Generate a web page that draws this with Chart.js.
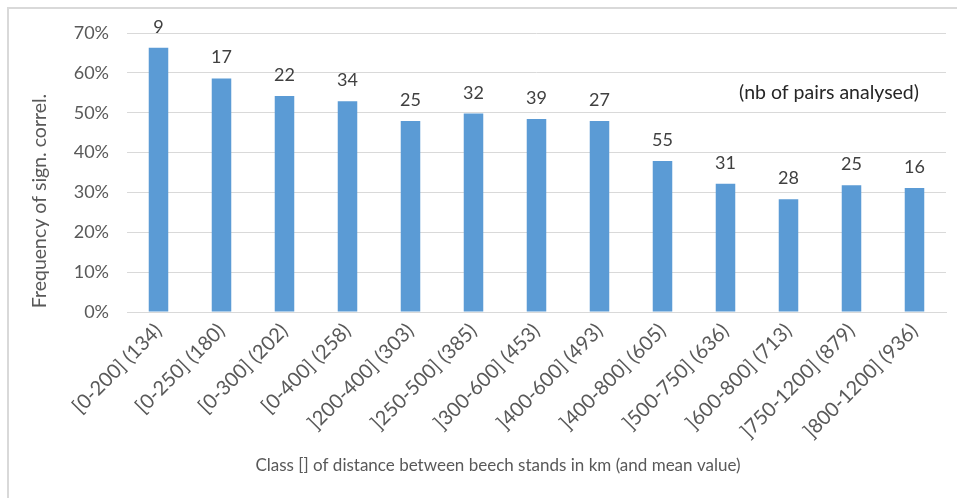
<!DOCTYPE html>
<html>
<head>
<meta charset="utf-8">
<script src="https://cdn.jsdelivr.net/npm/chart.js@4/dist/chart.umd.min.js"></script>
<style>
    html, body { margin: 0; padding: 0; background: #fff; }
    #wrap { position: relative; width: 957px; height: 498px; }
    #frame {
        position: absolute; left: 7px; top: 7px; right: -10px; bottom: -10px;
        border-top: 2px solid #d9d9d9; border-left: 2px solid #d9d9d9;
        pointer-events: none;
    }
</style>
</head>
<body>
<div id="wrap">
    <canvas id="chart" width="957" height="498"></canvas>
    <div id="frame"></div>
</div>
<script>
// Data
const categories = ['[0-200] (134)', '[0-250] (180)', '[0-300] (202)', '[0-400] (258)',
    ']200-400] (303)', ']250-500] (385)', ']300-600] (453)', ']400-600] (493)',
    ']400-800] (605)', ']500-750] (636)', ']600-800] (713)', ']750-1200] (879)', ']800-1200] (936)'];
const frequency = [66.3, 58.6, 54.2, 52.9, 47.9, 49.8, 48.4, 47.9, 37.9, 32.2, 28.3, 31.8, 31.1];
const pairCounts = [9, 17, 22, 34, 25, 32, 39, 27, 55, 31, 28, 25, 16];
const yTicks = [0, 10, 20, 30, 40, 50, 60, 70];

const FONT = 'Lato, "Open Sans", sans-serif';
const TEXT = '#595959';

// Labels above bars, the note and the two axis titles
const textPlugin = {
    id: 'texts',
    afterDatasetsDraw(chart) {
        const ctx = chart.ctx;
        const meta = chart.getDatasetMeta(0);
        const yScale = chart.scales.y;
        const area = chart.chartArea;
        ctx.save();
        ctx.fillStyle = '#404040';
        ctx.font = '18px ' + FONT;
        ctx.textAlign = 'center';
        ctx.textBaseline = 'alphabetic';
        meta.data.forEach((bar, i) => {
            ctx.fillText(String(pairCounts[i]), bar.x, bar.y - 15);
        });

        ctx.fillStyle = '#262626';
        ctx.font = '19.5px ' + FONT;
        ctx.textAlign = 'right';
        ctx.textBaseline = 'middle';
        ctx.fillText('(nb of pairs analysed)', area.right - 27, yScale.getPixelForValue(55));

        ctx.fillStyle = TEXT;
        ctx.textAlign = 'center';
        ctx.font = '17px ' + FONT;
        ctx.fillText('Class [] of distance between beech stands in km (and mean value)', 498, 466);

        ctx.translate(40, 201);
        ctx.rotate(-Math.PI / 2);
        ctx.font = '19.5px ' + FONT;
        ctx.fillText('Frequency of sign. correl.', 0, 0);
        ctx.restore();
    }
};

const ctx = document.getElementById('chart').getContext('2d');
const chart = new Chart(ctx, {
    type: 'bar',
    data: {
        labels: categories,
        datasets: [{
            data: frequency,
            backgroundColor: '#5b9bd5',
            borderWidth: 0,
            categoryPercentage: 1,
            barPercentage: 0.31
        }]
    },
    options: {
        responsive: false,
        animation: false,
        layout: {
            padding: { top: 33, right: 11, bottom: 0, left: 0 }
        },
        plugins: {
            legend: { display: false },
            tooltip: { enabled: false }
        },
        scales: {
            x: {
                grid: { display: false, drawTicks: false },
                border: { color: '#d9d9d9', width: 1 },
                ticks: {
                    autoSkip: false,
                    minRotation: 45,
                    maxRotation: 45,
                    padding: 7,
                    color: TEXT,
                    font: { family: FONT, size: 20 }
                },
                afterFit(scale) { scale.height = 186; }
            },
            y: {
                min: 0,
                max: 70,
                afterBuildTicks(scale) {
                    scale.ticks = yTicks.map(v => ({ value: v }));
                },
                grid: { color: '#d9d9d9', drawTicks: false },
                border: { display: false },
                ticks: {
                    padding: 18,
                    color: TEXT,
                    font: { family: FONT, size: 18 },
                    callback: v => v + '%'
                },
                afterFit(scale) { scale.width = 127; }
            }
        }
    },
    plugins: [textPlugin]
});
</script>
</body>
</html>
